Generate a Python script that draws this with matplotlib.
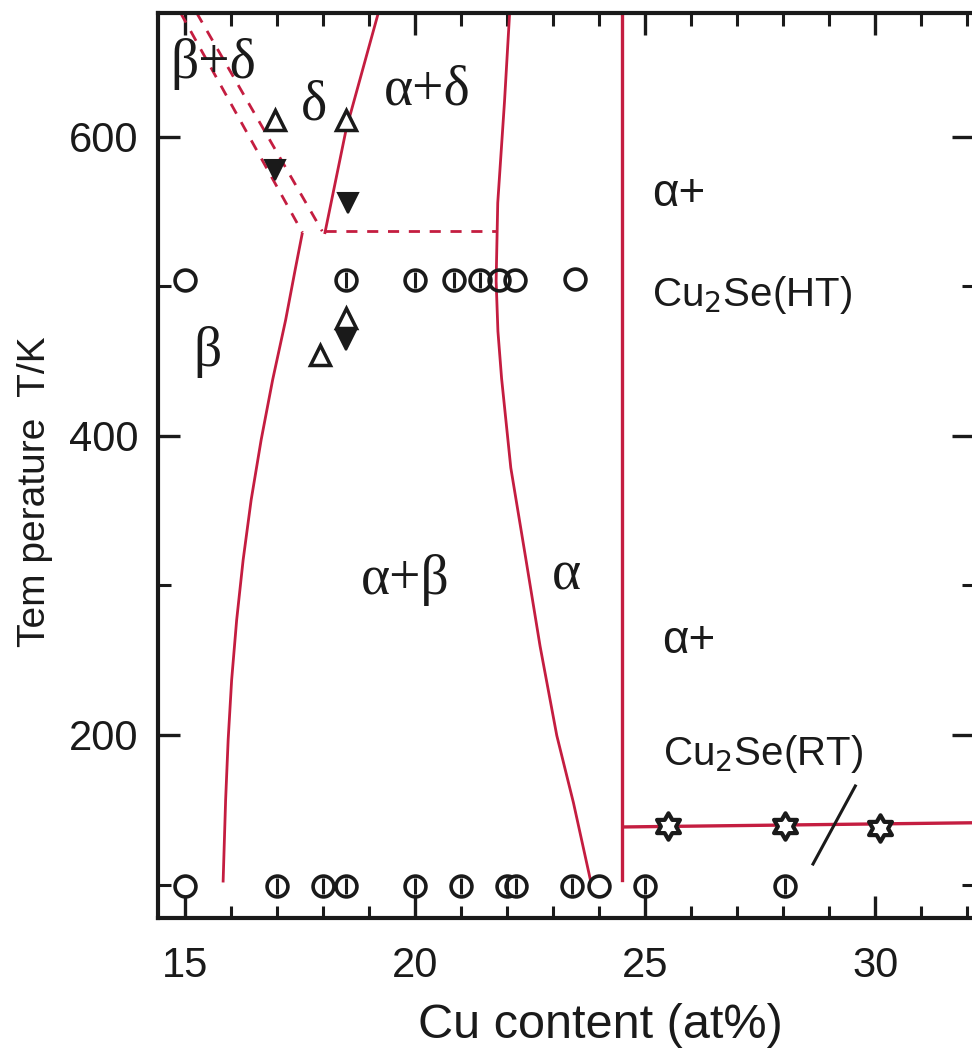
import matplotlib
matplotlib.use('Agg')
import matplotlib.pyplot as plt
import numpy as np
from matplotlib.path import Path
from matplotlib.ticker import MultipleLocator

# ---------------- data ----------------
# beta phase boundary (solid)
beta_x = [15.826, 15.880, 15.935, 16.011, 16.120, 16.261, 16.435, 16.652,
          16.902, 17.185, 17.391, 17.543]
beta_T = [102.3, 156.5, 196.7, 236.8, 276.9, 317.1, 357.2, 397.3,
          437.5, 477.6, 511.0, 535.0]
# delta / alpha+delta boundary (solid)
delta_x = [18.04, 18.50, 19.20]
delta_T = [536, 605, 683]
# dashed boundaries of beta+delta region
dashA_x = [14.90, 17.55]
dashA_T = [683, 536]
dashB_x = [15.25, 17.98]
dashB_T = [683, 537]
# dashed eutectoid line
eut_x = [18.04, 21.78]
eut_T = [537, 537]
# alpha phase boundary (solid)
alpha_x = [22.054, 21.943, 21.796, 21.761, 21.800, 21.880, 22.080, 22.400,
           22.717, 23.080, 23.441, 23.804]
alpha_T = [682.6, 623.6, 555.9, 503.7, 470.0, 438.4, 378.7, 319.1,
           259.3, 199.6, 154.8, 104.0]
# alpha / alpha+Cu2Se boundary
vert_x = [24.5, 24.5]
vert_T = [103, 683]
# Cu2Se RT/HT transition
rt_x = [24.55, 32.15]
rt_T = [138.5, 141.3]
# leader line for Cu2Se(RT)
lead_x = [28.65, 29.57]
lead_T = [113.7, 165.9]

# measured points
phi_low_x = [17.0, 18.0, 18.5, 20.0, 21.0, 22.0, 22.2, 23.4, 25.0, 28.05]
phi_low_T = [99] * len(phi_low_x)
open_low_x = [15.0, 24.0]
open_low_T = [99, 99]
phi_mid_x = [18.5, 20.0, 20.85, 21.4]
phi_mid_T = [504] * len(phi_mid_x)
open_mid_x = [15.0, 21.83, 22.17, 23.48]
open_mid_T = [504, 504, 504, 505]
tri_up_x = [16.96, 18.50, 18.50, 17.93]
tri_up_T = [611, 611, 479, 454]
tri_dn_x = [16.96, 18.54, 18.50]
tri_dn_T = [578, 556, 464]
hexa_x = [25.5, 28.05, 30.1]
hexa_T = [139, 139, 138]

x_ticks = [15, 20, 25, 30]
y_ticks = [200, 400, 600]

# ---------------- figure ----------------
RED = '#c41d40'
BLK = '#1a1a1a'
SANS = 'Liberation Sans'
SERIF = 'Liberation Serif'

fig = plt.figure(figsize=(9.72, 10.5), dpi=100)
ax = fig.add_axes([158/972, 1-918/1050, (974-158)/972, (918-13)/1050])
ax.set_xlim(14.41, 32.15)
ax.set_ylim(77.6, 682.9)

lw = 2.0
ax.plot(beta_x, beta_T, color=RED, lw=lw)
ax.plot(delta_x, delta_T, color=RED, lw=lw)
ax.plot(alpha_x, alpha_T, color=RED, lw=lw)
ax.plot(vert_x, vert_T, color=RED, lw=2.4)
ax.plot(rt_x, rt_T, color=RED, lw=2.4)
for xs, ts in [(dashA_x, dashA_T), (dashB_x, dashB_T), (eut_x, eut_T)]:
    ax.plot(xs, ts, color=RED, lw=lw, dashes=(4, 3.5))
ax.plot(lead_x, lead_T, color=BLK, lw=2.2)

ms = 15
mew = 2.6
ax.plot(phi_low_x + phi_mid_x, phi_low_T + phi_mid_T, ls='none', marker='o',
        ms=ms, mfc='white', mec=BLK, mew=mew, zorder=5)
ax.plot(phi_low_x + phi_mid_x, phi_low_T + phi_mid_T, ls='none', marker='|',
        ms=ms*0.8, mec=BLK, mew=2.2, zorder=6)
ax.plot(open_low_x + open_mid_x, open_low_T + open_mid_T, ls='none', marker='o',
        ms=ms, mfc='none', mec=BLK, mew=mew, zorder=5)
ax.plot(tri_up_x, tri_up_T, ls='none', marker='^', ms=14, mfc='white',
        mec=BLK, mew=2.5, zorder=5)
ax.plot(tri_dn_x, tri_dn_T, ls='none', marker='v', ms=14, mfc=BLK,
        mec=BLK, mew=1.5, zorder=5)

# hexagram marker
ang = np.pi/2 + np.arange(12) * np.pi/6
rad = np.where(np.arange(12) % 2 == 0, 1.0, 1/np.sqrt(3))
verts = np.column_stack([rad*np.cos(ang), rad*np.sin(ang)])
verts = np.vstack([verts, verts[:1]])
hexpath = Path(verts, [Path.MOVETO] + [Path.LINETO]*11 + [Path.CLOSEPOLY])
ax.plot(hexa_x, hexa_T, ls='none', marker=hexpath, ms=19, mfc='white',
        mec=BLK, mew=3.0, zorder=6)

# region labels
gk = dict(family=SERIF, fontsize=40, color=BLK, ha='center', va='center')
ax.text(15.61, 649, 'β+δ', **gk)
ax.text(17.80, 621, 'δ', **gk)
ax.text(20.26, 631, 'α+δ', **gk)
ax.text(15.48, 456, 'β', **gk)
ax.text(19.78, 304, 'α+β', **gk)
ax.text(23.30, 307, 'α', **gk)
sk = dict(family=SANS, fontsize=29, color=BLK, ha='left', va='center')
ak = dict(family=SANS, fontsize=33, color=BLK, ha='left', va='center')
ax.text(25.15, 562, 'α+', **ak)
ax.text(25.15, 494, 'Cu$_2$Se(HT)', **sk)
ax.text(25.37, 263, 'α+', **ak)
ax.text(25.39, 187, 'Cu$_2$Se(RT)', **sk)

# axes styling
for s in ax.spines.values():
    s.set_linewidth(3.0)
    s.set_color(BLK)
ax.xaxis.set_major_locator(MultipleLocator(5))
ax.xaxis.set_minor_locator(MultipleLocator(1))
ax.yaxis.set_major_locator(MultipleLocator(200))
ax.yaxis.set_minor_locator(MultipleLocator(100))
ax.set_xticks(x_ticks)
ax.set_yticks(y_ticks)
ax.tick_params(which='both', direction='in', top=True, right=True, color=BLK)
ax.tick_params(which='major', length=16, width=2.4)
ax.tick_params(which='minor', length=9, width=2.2)
ax.tick_params(axis='x', which='major', pad=20)
ax.tick_params(axis='y', which='major', pad=14)
for lab in ax.get_xticklabels() + ax.get_yticklabels():
    lab.set_fontfamily(SANS)
    lab.set_fontsize(30)
    lab.set_color(BLK)

fig.text(600/972, 1-1025/1050, 'Cu content (at%)', family=SANS, fontsize=35,
         color=BLK, ha='center', va='center')
fig.text(35/972, 1-492/1050, 'Tem perature  T/K', family=SANS, fontsize=28,
         color=BLK, ha='center', va='center', rotation=90)

fig.savefig('out.png', dpi=100, facecolor='white')
